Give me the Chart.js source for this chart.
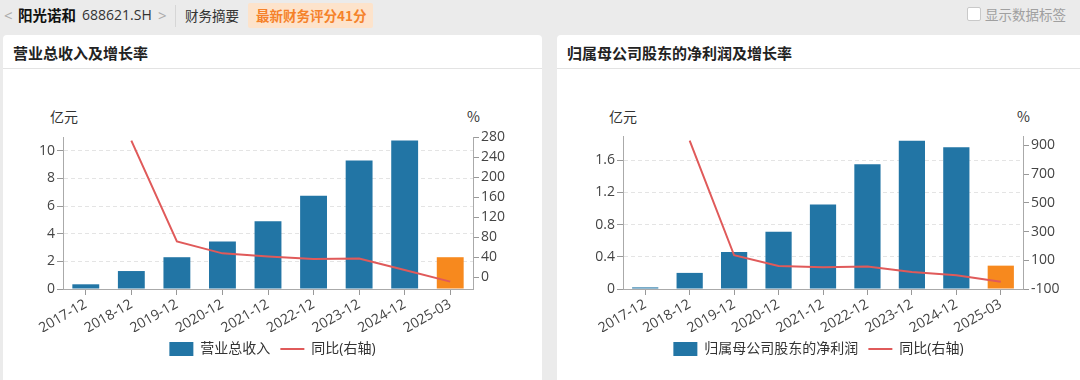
<!DOCTYPE html>
<html><head><meta charset="utf-8">
<script src="https://cdn.jsdelivr.net/npm/chart.js@4.4.0/dist/chart.umd.min.js"></script>
<style>
html,body{margin:0;padding:0;width:1080px;height:380px;overflow:hidden;background:#ebebeb;font-family:'Open Sans','Noto Sans CJK SC',sans-serif;color:#333;}
.abs{position:absolute;white-space:nowrap;}
.panel{position:absolute;background:#fff;border-radius:4px;}
.ptitle{position:absolute;left:0;right:0;top:0;height:33px;border-bottom:1px solid #e3e3e3;}
.ptitle span{position:absolute;left:10px;top:7px;font-size:15px;font-weight:bold;color:#222;font-family:'Noto Sans CJK SC',sans-serif;}
canvas{position:absolute;}
.unit{position:absolute;font-size:14px;color:#333;font-family:'Noto Sans CJK SC',sans-serif;line-height:16px;}
</style></head><body>
<div class="abs" style="left:4px;top:5px;font-size:15px;color:#aaa;line-height:20px;">&lt;</div>
<div class="abs" style="left:18px;top:5px;font-size:14.5px;font-weight:bold;color:#111;line-height:20px;font-family:'Noto Sans CJK SC',sans-serif;">阳光诺和</div>
<div class="abs" style="left:82px;top:5px;font-size:14px;color:#333;line-height:20px;">688621.SH</div>
<div class="abs" style="left:158px;top:5px;font-size:15px;color:#aaa;line-height:20px;">&gt;</div>
<div class="abs" style="left:175px;top:5px;width:1px;height:22px;background:#d6d6d6;"></div>
<div class="abs" style="left:185px;top:5px;font-size:13.5px;color:#333;line-height:20px;font-family:'Noto Sans CJK SC',sans-serif;">财务摘要</div>
<div class="abs" style="left:248px;top:3px;width:125px;height:25px;background:#fde3cb;border-radius:2px;"></div>
<div class="abs" style="left:256px;top:5px;font-size:13.5px;font-weight:bold;color:#f5822a;line-height:20px;font-family:'Noto Sans CJK SC',sans-serif;">最新财务评分41分</div>
<div class="abs" style="left:967px;top:7px;width:12px;height:12px;border:1px solid #c9c9c9;background:#fff;border-radius:2px;"></div>
<div class="abs" style="left:985px;top:4px;font-size:13.5px;color:#a0a0a0;line-height:20px;font-family:'Noto Sans CJK SC',sans-serif;">显示数据标签</div>

<div class="panel" style="left:3px;top:35px;width:539px;height:360px;">
  <div class="ptitle"><span>营业总收入及增长率</span></div>
</div>
<div class="panel" style="left:557px;top:35px;width:530px;height:360px;">
  <div class="ptitle"><span>归属母公司股东的净利润及增长率</span></div>
</div>
<div class="unit" style="left:50px;top:108px;">亿元</div>
<div class="unit" style="left:467px;top:108px;">%</div>
<div class="unit" style="left:609px;top:108px;">亿元</div>
<div class="unit" style="left:1017px;top:108px;">%</div>

<canvas id="c1" width="539" height="310" style="left:3px;top:70px;width:539px;height:310px;"></canvas>
<canvas id="c2" width="523" height="310" style="left:557px;top:70px;width:523px;height:310px;"></canvas>

<script>
// ---- data ----
const categories = ['2017-12','2018-12','2019-12','2020-12','2021-12','2022-12','2023-12','2024-12','2025-03'];
const revenue = [0.34, 1.3, 2.3, 3.43, 4.9, 6.74, 9.3, 10.75, 2.3];
const revenueYoY = [null, 272.6, 71.3, 47.3, 41, 36, 37, 14, -9.3];
const profit = [0.02, 0.2, 0.46, 0.71, 1.05, 1.55, 1.84, 1.76, 0.29];
const profitYoY = [null, 933, 135, 60, 51, 56, 18, -4, -49];

// tick values (all marks) and which of them carry labels
const revTicks = [0,1,2,3,4,5,6,7,8,9,10,11];
const revTickLabels = ['0','2','4','6','8','10'];
const revYoYTicks = [0,40,80,120,160,200,240,280];
const revYoYTickLabels = ['0','40','80','120','160','200','240','280'];
const profTicks = [0,0.2,0.4,0.6,0.8,1.0,1.2,1.4,1.6,1.8];
const profTickLabels = ['0','0.4','0.8','1.2','1.6'];
const profYoYTicks = [-100,0,100,200,300,400,500,600,700,800,900];
const profYoYTickLabels = ['-100','100','300','500','700','900'];

const BLUE = '#2275a5', ORANGE = '#f7891e', RED = '#e05a5a';
const FONT = "'Open Sans','Noto Sans CJK SC',sans-serif";

function fmt(v){ return String(Math.round(v*100)/100); }

function build(id, bars, yoy, barLabel, ax) {
  const colors = bars.map((v,i)=> i===bars.length-1 ? ORANGE : BLUE);
  new Chart(document.getElementById(id), {
    type: 'bar',
    data: {
      labels: categories,
      datasets: [
        { type:'bar', label: barLabel, data: bars, backgroundColor: colors, yAxisID:'y',
          barPercentage: 0.59, categoryPercentage: 1.0, order: 1 },
        { type:'line', label: '同比(右轴)', data: yoy, yAxisID:'y1', borderColor: RED,
          backgroundColor: RED, borderWidth: 2, pointRadius: 0, tension: 0, order: 0, spanGaps: false }
      ]
    },
    options: {
      responsive: false, animation: false, devicePixelRatio: 1,
      layout: { padding: { left: 0, right: 0, top: ax.top, bottom: 14 } },
      plugins: {
        tooltip: { enabled: false },
        legend: {
          position: 'bottom',
          labels: {
            usePointStyle: true, pointStyleWidth: 24, padding: 10, color: '#333',
            font: { size: 14, family: FONT },
            sort: (a,b)=> a.datasetIndex - b.datasetIndex,
            generateLabels: (chart) => chart.data.datasets.map((ds,i)=>({
              text: ds.label, datasetIndex: i, hidden: false, fontColor: '#333',
              fillStyle: i===0 ? BLUE : RED, strokeStyle: i===0 ? BLUE : RED,
              lineWidth: i===0 ? 0 : 2, pointStyle: i===0 ? 'rect' : 'line'
            }))
          }
        }
      },
      scales: {
        x: {
          afterFit: s => { s.height = 43; },
          grid: { drawOnChartArea: false, offset: false, tickLength: 6, color: '#999', tickColor: '#999' },
          border: { color: '#aaa', width: 1 },
          ticks: { minRotation: 30, maxRotation: 30, autoSkip: false, color: '#444', padding: 1,
                   font: { size: 14, family: FONT } }
        },
        y: {
          position: 'left', min: ax.yMin, max: ax.yMax,
          afterFit: s => { s.width = ax.yW; },
          afterBuildTicks: s => { s.ticks = ax.yTicks.map(v=>({value:v})); },
          grid: { color: '#e4e4e4', tickColor: '#999', tickLength: 6 },
          border: { color: '#aaa', width: 1, dash: [4,3] },
          ticks: { color: '#444', padding: 2, font: { size: 14, family: FONT },
                   callback: v => ax.yLabels.includes(fmt(v)) ? fmt(v) : '' }
        },
        y1: {
          position: 'right', min: ax.y1Min, max: ax.y1Max,
          afterFit: s => { s.width = ax.y1W; },
          afterBuildTicks: s => { s.ticks = ax.y1Ticks.map(v=>({value:v})); },
          grid: { drawOnChartArea: false, color: '#999', tickColor: '#999', tickLength: 6 },
          border: { color: '#aaa', width: 1 },
          ticks: { color: '#444', padding: 2, font: { size: 14, family: FONT },
                   callback: v => ax.y1Labels.includes(fmt(v)) ? fmt(v) : '' }
        }
      }
    }
  });
}

build('c1', revenue, revenueYoY, '营业总收入', {
  top: 67, yW: 60, y1W: 69,
  yMin: 0, yMax: 11, yTicks: revTicks, yLabels: revTickLabels,
  y1Min: -24, y1Max: 280, y1Ticks: revYoYTicks, y1Labels: revYoYTickLabels
});
build('c2', profit, profitYoY, '归属母公司股东的净利润', {
  top: 66, yW: 66, y1W: 57,
  yMin: 0, yMax: 1.9, yTicks: profTicks, yLabels: profTickLabels,
  y1Min: -100, y1Max: 966, y1Ticks: profYoYTicks, y1Labels: profYoYTickLabels
});
</script>
</body></html>
